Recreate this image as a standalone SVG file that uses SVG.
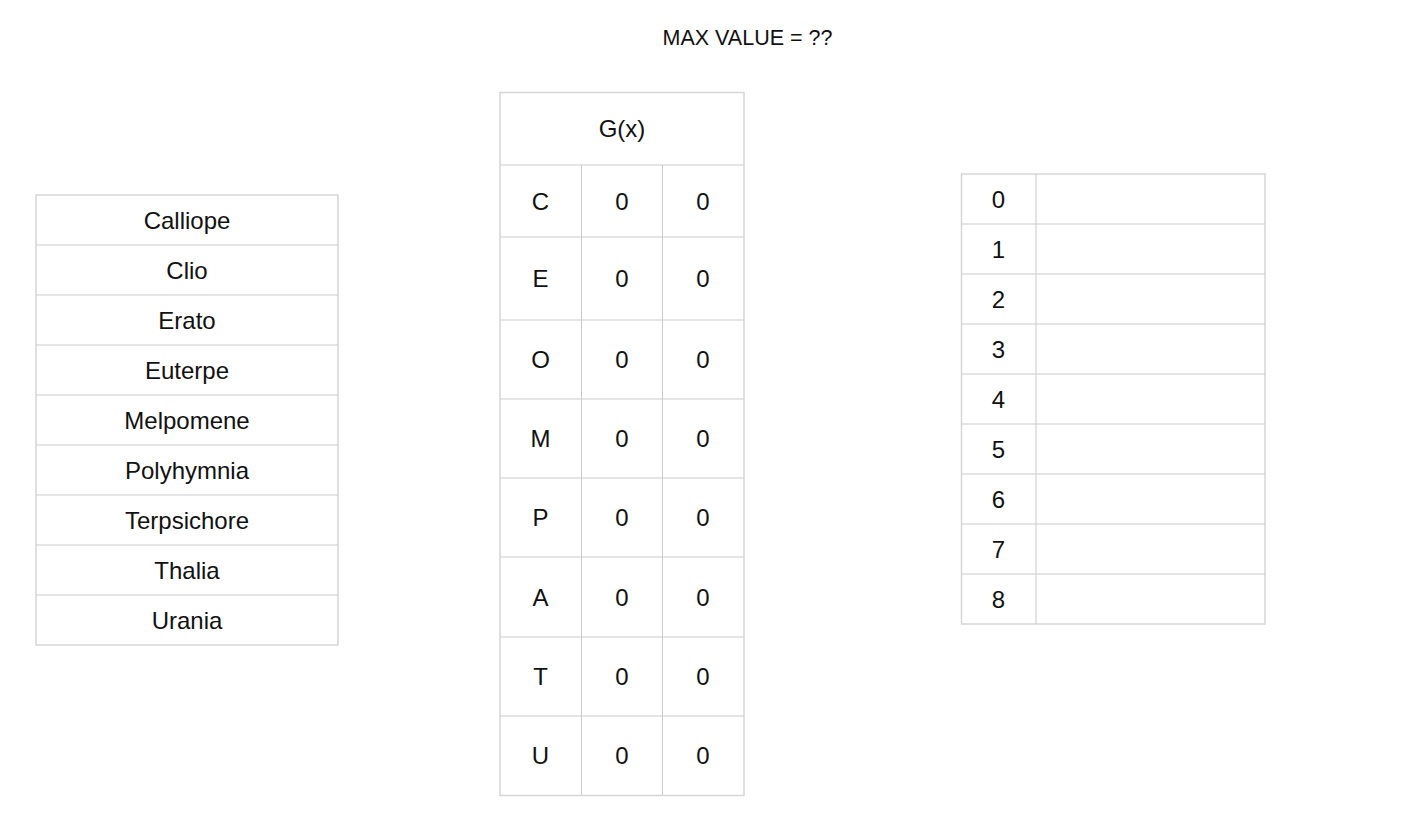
<svg xmlns="http://www.w3.org/2000/svg" width="1406" height="824" viewBox="0 0 1406 824">
<style>
.t{font-family:"Liberation Sans",Arial,sans-serif;font-size:24px;fill:#111;text-anchor:middle}
.title{font-family:"Liberation Sans",Arial,sans-serif;font-size:21.5px;fill:#111;text-anchor:middle}
.box{fill:#fff;stroke:#d6d6d6;stroke-width:1.5}
.ln{stroke:#cbcbcb;stroke-width:1;fill:none}
</style>
<rect width="1406" height="824" fill="#fff"/>
<text id="title" class="title" x="747.5" y="45">MAX VALUE = ??</text>

<g id="muses">
<rect class="box" x="36" y="195" width="302" height="450"/>
<path class="ln" d="M36 245H338M36 295H338M36 345H338M36 395H338M36 445H338M36 495H338M36 545H338M36 595H338"/>
<text class="t" x="187" y="228.5">Calliope</text>
<text class="t" x="187" y="278.5">Clio</text>
<text class="t" x="187" y="328.5">Erato</text>
<text class="t" x="187" y="378.5">Euterpe</text>
<text class="t" x="187" y="428.5">Melpomene</text>
<text class="t" x="187" y="478.5">Polyhymnia</text>
<text class="t" x="187" y="528.5">Terpsichore</text>
<text class="t" x="187" y="578.5">Thalia</text>
<text class="t" x="187" y="628.5">Urania</text>
</g>

<g id="gx">
<rect class="box" x="500" y="92.5" width="244" height="703"/>
<path class="ln" d="M500 165H744M500 237H744M500 320H744M500 399H744M500 478H744M500 557H744M500 637H744M500 716H744M581.5 165V795M662.5 165V795"/>
<text class="t" x="622" y="137">G(x)</text>
<text class="t" x="540.5" y="209.5">C</text><text class="t" x="622" y="209.5">0</text><text class="t" x="703" y="209.5">0</text>
<text class="t" x="540.5" y="287">E</text><text class="t" x="622" y="287">0</text><text class="t" x="703" y="287">0</text>
<text class="t" x="540.5" y="368">O</text><text class="t" x="622" y="368">0</text><text class="t" x="703" y="368">0</text>
<text class="t" x="540.5" y="447">M</text><text class="t" x="622" y="447">0</text><text class="t" x="703" y="447">0</text>
<text class="t" x="540.5" y="526">P</text><text class="t" x="622" y="526">0</text><text class="t" x="703" y="526">0</text>
<text class="t" x="540.5" y="605.5">A</text><text class="t" x="622" y="605.5">0</text><text class="t" x="703" y="605.5">0</text>
<text class="t" x="540.5" y="685">T</text><text class="t" x="622" y="685">0</text><text class="t" x="703" y="685">0</text>
<text class="t" x="540.5" y="764">U</text><text class="t" x="622" y="764">0</text><text class="t" x="703" y="764">0</text>
</g>

<g id="index">
<rect class="box" x="961.5" y="174" width="303.5" height="450"/>
<path class="ln" d="M961.5 224H1265M961.5 274H1265M961.5 324H1265M961.5 374H1265M961.5 424H1265M961.5 474H1265M961.5 524H1265M961.5 574H1265M1036 174V624"/>
<text class="t" x="998.5" y="207.5">0</text>
<text class="t" x="998.5" y="257.5">1</text>
<text class="t" x="998.5" y="307.5">2</text>
<text class="t" x="998.5" y="357.5">3</text>
<text class="t" x="998.5" y="407.5">4</text>
<text class="t" x="998.5" y="457.5">5</text>
<text class="t" x="998.5" y="507.5">6</text>
<text class="t" x="998.5" y="557.5">7</text>
<text class="t" x="998.5" y="607.5">8</text>
</g>
</svg>
